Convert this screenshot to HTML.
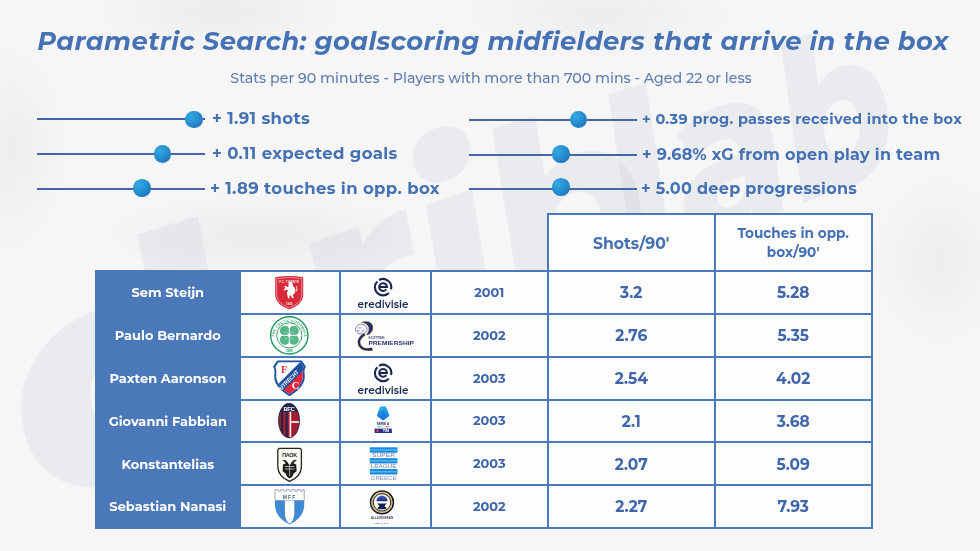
<!DOCTYPE html>
<html><head><meta charset="utf-8">
<style>
*{margin:0;padding:0;box-sizing:border-box}
html,body{width:980px;height:551px;overflow:hidden}
body{position:relative;background:#f6f6f6;font-family:"Montserrat","Liberation Sans",sans-serif;color:#4a76b8}
.bg{position:absolute;inset:0;overflow:hidden;background:
radial-gradient(ellipse 130px 40px at 220px 12px,rgba(0,0,0,.045),transparent),
radial-gradient(ellipse 140px 45px at 600px 14px,rgba(0,0,0,.04),transparent),
radial-gradient(ellipse 60px 110px at 10px 150px,rgba(0,0,0,.035),transparent),
radial-gradient(ellipse 160px 45px at 260px 235px,rgba(0,0,0,.045),transparent),
radial-gradient(ellipse 70px 90px at 940px 260px,rgba(0,0,0,.035),transparent)}
.wm{position:absolute;left:70px;top:88px;white-space:nowrap;line-height:1;font-size:250px;font-weight:800;color:rgba(70,95,140,0.065);transform-origin:50% 50%;transform:perspective(800px) rotateY(24deg) rotateZ(-18deg) skewX(-8deg)}
.wm2{position:absolute;left:0;top:0}
.title{position:absolute;left:3px;width:980px;top:24.8px;text-align:center;font-weight:700;font-style:italic;font-size:25.8px;letter-spacing:0.4px;white-space:nowrap;color:#4472b4}
.sub{position:absolute;left:1px;width:980px;top:69.2px;text-align:center;font-weight:500;font-size:14.2px;white-space:nowrap;color:#5f7cb0}
.sl{position:absolute;height:2px;background:#4367a8}
.kn{position:absolute;width:17.6px;height:17.6px;border-radius:50%;background:radial-gradient(circle at 32% 30%,#36a8df 0%,#2691d2 42%,#1c66b6 100%)}
.lb{position:absolute;font-weight:700;font-size:16.5px;letter-spacing:0.35px;white-space:nowrap;color:#4371b3}
.tb{position:absolute;background:#4a78b8}
.wc{position:absolute;background:#fdfdfd;display:flex;align-items:center;justify-content:center;color:#3f66ab;font-weight:700}
.nm{position:absolute;display:flex;align-items:center;justify-content:center;color:#fff;font-weight:700;font-size:13px;white-space:nowrap}
.hd{font-size:15.2px;text-align:center;line-height:18.4px;color:#4470b2}
.hd .h2{font-size:13.6px}
.yr{font-size:12.9px;font-weight:700;padding-top:0px}
.vl{font-size:15.4px;padding-top:1px}
.ov{position:absolute;left:0;top:0}
</style></head><body>
<div class="bg"><div class="wm"><span style="letter-spacing:55px">d</span>ri<span style="letter-spacing:-40px">b</span>lab</div></div>
<div class="title">Parametric Search: goalscoring midfielders that arrive in the box</div>
<div class="sub">Stats per 90 minutes - Players with more than 700 mins - Aged 22 or less</div>

<div class="sl" style="left:37px;top:118px;width:168px"></div><div class="kn" style="left:185.1px;top:110.5px"></div>
<div class="lb" style="left:212px;top:108px">+ 1.91 shots</div>
<div class="sl" style="left:37px;top:153px;width:168px"></div><div class="kn" style="left:153.8px;top:145.3px"></div>
<div class="lb" style="left:212px;top:143.4px">+ 0.11 expected goals</div>
<div class="sl" style="left:37px;top:188px;width:168px"></div><div class="kn" style="left:133px;top:179.2px"></div>
<div class="lb" style="left:210px;top:178px">+ 1.89 touches in opp. box</div>

<div class="sl" style="left:469px;top:119px;width:168px"></div><div class="kn" style="left:569.9px;top:110.9px"></div>
<div class="lb" style="left:642px;top:109.6px;font-size:14.5px;letter-spacing:0.3px">+ 0.39 prog. passes received into the box</div>
<div class="sl" style="left:469px;top:154px;width:168px"></div><div class="kn" style="left:552.2px;top:145.4px"></div>
<div class="lb" style="left:642px;top:144.5px;font-size:16px;letter-spacing:0.3px">+ 9.68% xG from open play in team</div>
<div class="sl" style="left:469px;top:188px;width:168px"></div><div class="kn" style="left:552.2px;top:178.3px"></div>
<div class="lb" style="left:641px;top:178.5px;font-size:16px;letter-spacing:0.3px">+ 5.00 deep progressions</div>

<div class="tb" style="left:95px;top:269.8px;width:777.7px;height:259px"></div>
<div class="tb" style="left:546.8px;top:213.3px;width:325.9px;height:58px"></div>
<div class="wc hd" style="left:548.8px;top:215.3px;width:164.9px;height:54.5px;padding-top:2.4px;font-size:15.6px"><span>Shots/90'</span></div>
<div class="wc hd" style="left:715.7px;top:215.3px;width:155px;height:54.5px"><span class="h2">Touches in opp.<br>box/90'</span></div>
<div class="nm" style="left:95px;top:271.8px;width:145.6px;height:41.1px"><span>Sem Steijn</span></div>
<div class="wc lg" style="left:240.6px;top:271.8px;width:98.5px;height:41.1px"><!--club0--></div>
<div class="wc lg" style="left:341.1px;top:271.8px;width:88.8px;height:41.1px"><!--league0--></div>
<div class="wc yr" style="left:431.9px;top:271.8px;width:114.9px;height:41.1px">2001</div>
<div class="wc vl" style="left:548.8px;top:271.8px;width:164.9px;height:41.1px">3.2</div>
<div class="wc vl" style="left:715.7px;top:271.8px;width:155.0px;height:41.1px">5.28</div>
<div class="nm" style="left:95px;top:314.9px;width:145.6px;height:40.9px"><span>Paulo Bernardo</span></div>
<div class="wc lg" style="left:240.6px;top:314.9px;width:98.5px;height:40.9px"><!--club1--></div>
<div class="wc lg" style="left:341.1px;top:314.9px;width:88.8px;height:40.9px"><!--league1--></div>
<div class="wc yr" style="left:431.9px;top:314.9px;width:114.9px;height:40.9px">2002</div>
<div class="wc vl" style="left:548.8px;top:314.9px;width:164.9px;height:40.9px">2.76</div>
<div class="wc vl" style="left:715.7px;top:314.9px;width:155.0px;height:40.9px">5.35</div>
<div class="nm" style="left:95px;top:357.8px;width:145.6px;height:40.8px"><span>Paxten Aaronson</span></div>
<div class="wc lg" style="left:240.6px;top:357.8px;width:98.5px;height:40.8px"><!--club2--></div>
<div class="wc lg" style="left:341.1px;top:357.8px;width:88.8px;height:40.8px"><!--league2--></div>
<div class="wc yr" style="left:431.9px;top:357.8px;width:114.9px;height:40.8px">2003</div>
<div class="wc vl" style="left:548.8px;top:357.8px;width:164.9px;height:40.8px">2.54</div>
<div class="wc vl" style="left:715.7px;top:357.8px;width:155.0px;height:40.8px">4.02</div>
<div class="nm" style="left:95px;top:400.6px;width:145.6px;height:40.8px"><span>Giovanni Fabbian</span></div>
<div class="wc lg" style="left:240.6px;top:400.6px;width:98.5px;height:40.8px"><!--club3--></div>
<div class="wc lg" style="left:341.1px;top:400.6px;width:88.8px;height:40.8px"><!--league3--></div>
<div class="wc yr" style="left:431.9px;top:400.6px;width:114.9px;height:40.8px">2003</div>
<div class="wc vl" style="left:548.8px;top:400.6px;width:164.9px;height:40.8px">2.1</div>
<div class="wc vl" style="left:715.7px;top:400.6px;width:155.0px;height:40.8px">3.68</div>
<div class="nm" style="left:95px;top:443.4px;width:145.6px;height:40.9px"><span>Konstantelias</span></div>
<div class="wc lg" style="left:240.6px;top:443.4px;width:98.5px;height:40.9px"><!--club4--></div>
<div class="wc lg" style="left:341.1px;top:443.4px;width:88.8px;height:40.9px"><!--league4--></div>
<div class="wc yr" style="left:431.9px;top:443.4px;width:114.9px;height:40.9px">2003</div>
<div class="wc vl" style="left:548.8px;top:443.4px;width:164.9px;height:40.9px">2.07</div>
<div class="wc vl" style="left:715.7px;top:443.4px;width:155.0px;height:40.9px">5.09</div>
<div class="nm" style="left:95px;top:486.3px;width:145.6px;height:40.3px"><span>Sebastian Nanasi</span></div>
<div class="wc lg" style="left:240.6px;top:486.3px;width:98.5px;height:40.3px"><!--club5--></div>
<div class="wc lg" style="left:341.1px;top:486.3px;width:88.8px;height:40.3px"><!--league5--></div>
<div class="wc yr" style="left:431.9px;top:486.3px;width:114.9px;height:40.3px">2002</div>
<div class="wc vl" style="left:548.8px;top:486.3px;width:164.9px;height:40.3px">2.27</div>
<div class="wc vl" style="left:715.7px;top:486.3px;width:155.0px;height:40.3px">7.93</div>
<svg class="ov" width="980" height="551" viewBox="0 0 980 551">
<defs>
<linearGradient id="saG" x1="0" y1="0" x2="0" y2="1"><stop offset="0" stop-color="#27b4f4"/><stop offset="1" stop-color="#1463d6"/></linearGradient>
<linearGradient id="alG" x1="0" y1="0" x2="0" y2="1"><stop offset="0" stop-color="#4a64c8"/><stop offset="1" stop-color="#1c2c78"/></linearGradient>
</defs>
<!-- FC Twente -->
<g>
<path d="M275.2,277.2 Q289.2,274.6 303.2,277.2 L303.2,296 Q302.4,304.5 289.2,309.4 Q276,304.5 275.2,296 Z" fill="#d8283a"/>
<path d="M276.7,278.6 Q289.2,276.3 301.7,278.6 L301.7,295.8 Q301,303.3 289.2,307.8 Q277.4,303.3 276.7,295.8 Z" fill="none" stroke="#f7c9cb" stroke-width="0.6"/>
<text x="289.2" y="282.6" font-size="3.2" font-family="Liberation Sans,sans-serif" font-weight="700" fill="#fbe3e4" text-anchor="middle">F.C. TWENTE</text>
<path d="M289.4,282.2 C291,281.6 292.6,282.4 292.8,284 L293.4,286.4 C295,287.6 295.8,289.8 295.2,292 C294.8,293.6 293.6,294.4 292.6,294.8 L293.8,297.8 L292.2,298.2 L290.8,295.4 L289.2,295.6 L289.6,298.2 L288,298.4 L287.4,295 C286.6,293.6 287,291.6 288,290.4 L286.4,289.6 L284.6,290.8 L283.6,289.6 L285.6,288 L284.2,286.6 L285.2,285.6 L287.2,287 L288.6,286.6 C288.2,285.2 288.4,283 289.4,282.2 Z" fill="#fff"/>
<path d="M296.6,286.2 Q297.6,289 296.4,291.6" fill="none" stroke="#fff" stroke-width="0.9"/>
<text x="289.2" y="305" font-size="3" font-family="Liberation Sans,sans-serif" font-weight="700" fill="#fbe3e4" text-anchor="middle">1965</text>
</g>
<!-- Celtic -->
<g>
<circle cx="289.3" cy="335.4" r="18.6" fill="#fff" stroke="#1e9a5e" stroke-width="1.4"/>
<circle cx="289.3" cy="335.4" r="12.6" fill="#fff" stroke="#1e9a5e" stroke-width="0.9"/>
<path id="celArc" d="M274.3,337 A15,15 0 0 1 304.3,337" fill="none"/>
<text font-size="3.6" font-family="Liberation Sans,sans-serif" font-weight="700" fill="#2aa06a" letter-spacing="0.3"><textPath href="#celArc">THE CELTIC FOOTBALL CLUB</textPath></text>
<text x="289.3" y="351.6" font-size="3" font-family="Liberation Sans,sans-serif" font-weight="700" fill="#2aa06a" text-anchor="middle">1888</text>
<g fill="#55b888" stroke="#1e8c56" stroke-width="0.5">
<circle cx="284.8" cy="330.8" r="4.6"/><circle cx="293.8" cy="330.8" r="4.6"/>
<circle cx="284.8" cy="339.8" r="4.6"/><circle cx="293.8" cy="339.8" r="4.6"/>
</g>
<path d="M289.3,326 L289.3,344.6 M280,335.3 L298.6,335.3" stroke="#fff" stroke-width="1"/>
<path d="M285,331 L287.5,333.5 M293.6,331 L291.1,333.5 M285,339.6 L287.5,337.1 M293.6,339.6 L291.1,337.1" stroke="#e8f6ee" stroke-width="0.5"/>
</g>
<!-- FC Utrecht -->
<g>
<path d="M277.3,360.4 L301.8,360.4 L306,366.8 Q304,369 304.6,374 Q306.5,386 289.5,396.2 Q272.5,386 274.4,374 Q275,369 273,366.8 Z" fill="#1f4fa0"/>
<path d="M278.4,362.3 L300.6,362.3 L303.6,366.9 Q302.2,369.2 302.7,374 Q304.2,384.6 289.5,393.9 Q274.8,384.6 276.3,374 Q276.8,369.2 275.4,366.9 Z" fill="#fff"/>
<clipPath id="utc"><path d="M278.4,362.3 L300.6,362.3 L303.6,366.9 Q302.2,369.2 302.7,374 Q304.2,384.6 289.5,393.9 Q274.8,384.6 276.3,374 Q276.8,369.2 275.4,366.9 Z"/></clipPath>
<g clip-path="url(#utc)">
<path d="M308,364 L308,400 L272,400 Z" fill="#e3283c"/>
<path d="M302.6,359.6 L308.4,365.4 L280.6,393.2 L274.8,387.4 Z" fill="#1f4fa0"/>
</g>
<text x="0" y="0" font-size="5.6" font-family="Liberation Sans,sans-serif" font-weight="700" fill="#fff" transform="translate(281.4,390.2) rotate(-45)" textLength="25" lengthAdjust="spacingAndGlyphs">UTRECHT</text>
<text x="284" y="373" font-size="10" font-family="Liberation Serif,serif" font-weight="700" fill="#e3283c" text-anchor="middle">F</text>
<text x="295.6" y="389" font-size="10.5" font-family="Liberation Serif,serif" font-weight="700" fill="#fff" text-anchor="middle">C</text>
</g>
<!-- Bologna -->
<g>
<ellipse cx="289" cy="420.6" rx="10.9" ry="17.6" fill="#1c2448"/>
<clipPath id="boc"><ellipse cx="289" cy="420.6" rx="10" ry="16.7"/></clipPath>
<g clip-path="url(#boc)">
<rect x="278" y="411" width="22" height="28" fill="#a31d2e"/>
<rect x="281" y="411" width="2" height="28" fill="#1c2448"/>
<rect x="285.6" y="411" width="2" height="28" fill="#1c2448"/>
<rect x="289.6" y="411" width="1.6" height="28" fill="#fff"/>
<rect x="289.6" y="421.2" width="11" height="1.6" fill="#fff"/>
<rect x="278" y="403" width="22" height="8.6" fill="#1c2448"/>
</g>
<text x="289" y="410.6" font-size="6" font-family="Liberation Sans,sans-serif" font-weight="700" fill="#fff" text-anchor="middle" letter-spacing="-0.4">BFC</text>
</g>
<!-- PAOK -->
<g>
<path d="M279.5,448.4 L299.6,448.4 Q301.4,448.6 301.4,450.6 L301.4,467 Q301,476.6 289.6,481.4 Q278.2,476.6 277.8,467 L277.8,450.6 Q277.8,448.6 279.5,448.4 Z" fill="#fbfaf4" stroke="#24241c" stroke-width="1.3"/>
<text x="289.6" y="457.4" font-size="5.4" font-family="Liberation Sans,sans-serif" font-weight="700" fill="#1a1a1a" text-anchor="middle" letter-spacing="-0.2">ΠΑΟΚ</text>
<path d="M282.3,460.2 Q285.2,458.6 287.8,462.6 L289.6,465.6 L291.4,462.6 Q294,458.6 296.9,460.2 Q294.8,461 293.4,463.2 L296.2,464.6 L296.6,471.2 L293.6,473.4 L292.4,476.4 L289.6,478.6 L286.8,476.4 L285.6,473.4 L282.6,471.2 L283,464.6 L285.8,463.2 Q284.4,461 282.3,460.2 Z" fill="#1e1e1e"/>
<path d="M285,466.5 L294.2,466.5 M285,469 L294.2,469 M289.6,465.6 L289.6,476" stroke="#e8e8e0" stroke-width="0.7"/>
</g>
<!-- Malmo FF -->
<g>
<path d="M275,489.6 L278.2,489.6 L278.2,491.2 L280.6,491.2 L280.6,489.6 L283.8,489.6 L283.8,491.2 L286.2,491.2 L286.2,489.6 L289.4,489.6 L289.4,491.2 L291.8,491.2 L291.8,489.6 L295,489.6 L295,491.2 L297.4,491.2 L297.4,489.6 L300.6,489.6 L300.6,491.2 L302.6,491.2 L302.6,489.6 L304.2,489.6 L304.2,500.6 L275,500.6 Z" fill="#fff" stroke="#8c93a6" stroke-width="0.8"/>
<path d="M275,500.6 L304.2,500.6 L304.2,506 Q303.4,518 289.6,524.6 Q275.8,518 275,506 Z" fill="#3f8ad2"/>
<path d="M284.9,500.6 L294.3,500.6 L294.3,514 Q293.8,521 289.6,523.8 Q285.4,521 284.9,514 Z" fill="#fff"/>
<text x="289.6" y="498.8" font-size="5.2" font-family="Liberation Sans,sans-serif" font-weight="700" fill="#4c607e" text-anchor="middle" letter-spacing="1">MFF</text>
</g>
<!-- Eredivisie x2 -->
<g id="ere">
<path d="M377.3,281.4 A8.2,8.2 0 0 0 388.9,293" fill="none" stroke="#1b2650" stroke-width="2.1"/>
<path d="M391,289.3 A8.2,8.2 0 0 0 379,280.1" fill="none" stroke="#1b2650" stroke-width="2.1"/>
<path d="M379.2,287.1 L387,287.1 A3.9,3.9 0 1 0 386.3,289.3" fill="none" stroke="#1b2650" stroke-width="2"/>
<text x="383" y="307.8" font-size="10.6" font-family="Montserrat,Liberation Sans,sans-serif" font-weight="600" fill="#1b2650" text-anchor="middle" textLength="51" lengthAdjust="spacingAndGlyphs">eredivisie</text>
</g>
<use href="#ere" transform="translate(0,85.8)"/>
<!-- Scottish Premiership -->
<g>
<path d="M364.6,334.2 C359.8,337.2 357.8,341.4 359.6,345.2 C361.6,348.8 366.4,350.2 372.4,349" fill="none" stroke="#d9c766" stroke-width="3.2"/>
<path d="M364.6,334.2 C359.8,337.2 357.8,341.4 359.6,345.2 C361.6,348.8 366.4,350.2 372.4,349" fill="none" stroke="#262b66" stroke-width="2.3"/>
<path d="M361,322.4 C365,320.2 370.6,320.8 372.6,325 C374,328.8 372.2,332.6 368.6,334.8 L365.6,335.2 C368.4,332.8 369.4,329.6 368.4,326.8 C367.4,324.2 364.6,322.8 361,322.4 Z" fill="#262b66" stroke="#d9c766" stroke-width="0.5"/>
<path d="M355.4,329.6 C355.8,326.4 358.6,323.8 362,324.2 C365.8,324.6 367.8,327.6 366.8,330.6 C365.8,333.4 362.4,334.6 359.2,333.8 C357.4,333.2 355.8,331.6 355.4,329.6 Z" fill="#f2f3f8" stroke="#30367a" stroke-width="0.6"/>
<path d="M358.4,328 L360.8,327.8 M357,330.8 L359.8,331 M361.6,331.8 L364.4,330" stroke="#30367a" stroke-width="0.5"/>
<text x="368.6" y="338.6" font-size="2.9" font-family="Liberation Sans,sans-serif" font-weight="700" fill="#262b66" letter-spacing="0.15">SCOTTISH</text>
<text x="368.4" y="344.8" font-size="6.1" font-family="Liberation Sans,sans-serif" font-weight="700" fill="#2c3170" textLength="45.6" lengthAdjust="spacingAndGlyphs">PREMIERSHIP</text>
</g>
<!-- Serie A -->
<g>
<path d="M380.4,406.4 L385.8,406.4 Q388.2,411 389.4,416 Q386.6,417.6 383.1,420.6 Q379.6,417.6 376.8,416 Q378,411 380.4,406.4 Z" fill="url(#saG)"/>
<path d="M383.2,409.6 L385.4,416.4 L383.2,418 L381,416.4 Z" fill="#1d7be2" opacity="0.7"/>
<text x="383" y="424.8" font-size="3.2" font-family="Liberation Sans,sans-serif" font-weight="700" fill="#2a2f55" text-anchor="middle">SERIE A</text>
<rect x="377.4" y="426.3" width="4" height="0.9" fill="#3bb56a"/><rect x="381.4" y="426.3" width="4" height="0.9" fill="#eee"/><rect x="385.4" y="426.3" width="4" height="0.9" fill="#e54b55"/>
<rect x="374.6" y="428.6" width="17.2" height="4.4" fill="#23318f"/>
<text x="386" y="432.2" font-size="3.8" font-family="Liberation Sans,sans-serif" font-weight="700" fill="#fff" text-anchor="middle">TIM</text>
<rect x="376.2" y="429.6" width="2.4" height="2.4" fill="#e23b50"/>
</g>
<!-- Super League Greece -->
<g>
<rect x="369.8" y="447.3" width="27.6" height="5.4" fill="#1a86de"/>
<rect x="369.8" y="458.2" width="27.6" height="5.2" fill="#1a86de"/>
<rect x="369.8" y="469" width="27.6" height="5.5" fill="#1a86de"/>
<rect x="369.8" y="449.2" width="27.6" height="1.6" fill="#49b6f2"/>
<rect x="369.8" y="460" width="27.6" height="1.6" fill="#49b6f2"/>
<rect x="369.8" y="470.9" width="27.6" height="1.6" fill="#49b6f2"/>
<text x="383.6" y="457.4" font-size="4.6" font-family="Liberation Sans,sans-serif" fill="#6f82a8" text-anchor="middle" textLength="23" lengthAdjust="spacingAndGlyphs">SUPER</text>
<text x="383.6" y="468.2" font-size="4.6" font-family="Liberation Sans,sans-serif" fill="#6f82a8" text-anchor="middle" textLength="26" lengthAdjust="spacingAndGlyphs">LEAGUE</text>
<text x="383.6" y="479.6" font-size="4.6" font-family="Liberation Sans,sans-serif" fill="#7d91bb" text-anchor="middle" textLength="26" lengthAdjust="spacingAndGlyphs">GREECE</text>
</g>
<!-- Allsvenskan -->
<g>
<circle cx="382" cy="502.4" r="11.4" fill="#fff" stroke="#171a2c" stroke-width="1.6"/>
<circle cx="382" cy="502.4" r="9.8" fill="none" stroke="#c9ab34" stroke-width="1.1"/>
<circle cx="382" cy="502.4" r="8.7" fill="none" stroke="#1c1e30" stroke-width="1"/>
<path d="M376.4,501.2 A5.6,5.6 0 0 1 387.6,501.2 Z" fill="url(#alG)"/>
<path d="M377,503.4 L387,503.4 Q384.6,504.6 384.6,506.6 L386.2,507.6 L386.2,509.2 L377.8,509.2 L377.8,507.6 L379.4,506.6 Q379.4,504.6 377,503.4 Z" fill="#17204e"/>
<text x="382" y="519" font-size="3.4" font-family="Liberation Sans,sans-serif" font-weight="700" fill="#3c3f58" text-anchor="middle" textLength="22" lengthAdjust="spacingAndGlyphs">ALLSVENSKAN</text>
<text x="382" y="523.8" font-size="2.4" font-family="Liberation Sans,sans-serif" fill="#5c5f78" text-anchor="middle">SEDAN 1924</text>
</g>
</svg>

</body></html>
